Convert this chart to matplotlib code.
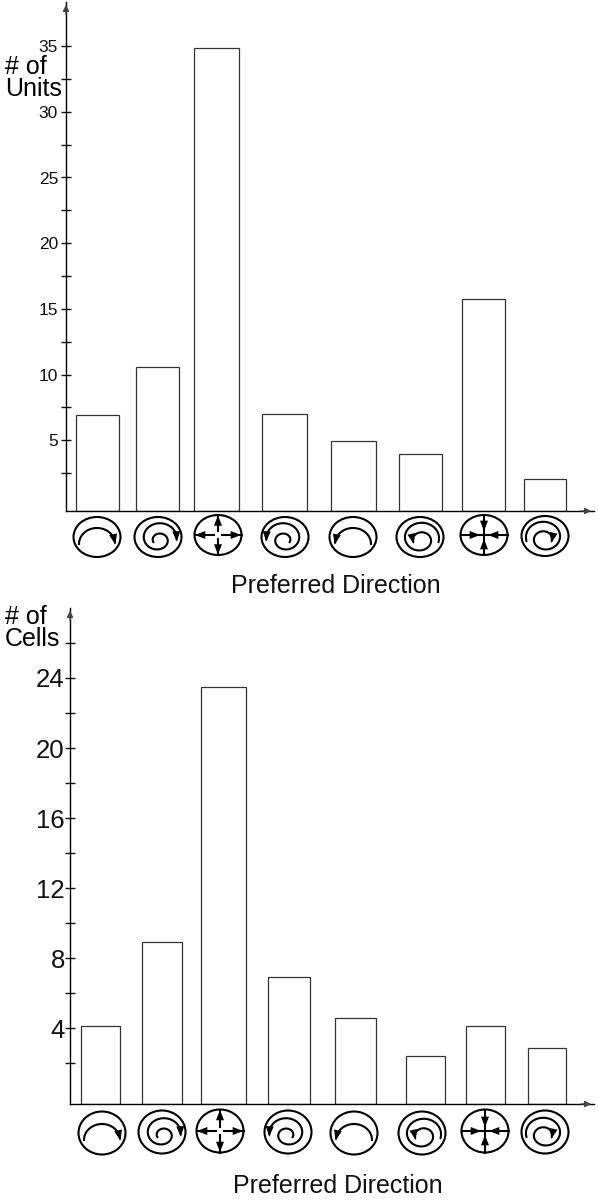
import numpy as np
import matplotlib
matplotlib.use('Agg')
from matplotlib import pyplot as plt
from matplotlib.patches import Ellipse

plt.rcParams['font.family'] = ['Liberation Sans', 'DejaVu Sans']

W, H = 598, 1200

# top panel
units_values = [6.9, 10.6, 34.85, 7.0, 4.95, 3.96, 15.75, 2.05]
units_major = [5, 10, 15, 20, 25, 30, 35]
units_minor = [2.5, 7.5, 12.5, 17.5, 22.5, 27.5, 32.5]
units_label = '# of\nUnits'

# bottom panel
cells_values = [4.1, 8.9, 23.5, 6.9, 4.57, 2.4, 4.1, 2.86]
cells_major = [4, 8, 12, 16, 20, 24]
cells_minor = [2, 6, 10, 14, 18, 22, 26]
cells_label = '# of\nCells'

xlabel = 'Preferred Direction'
# what each direction icon shows
icon_kinds = ['cw_arc', 'cw_spiral', 'out', 'ccw_spiral', 'ccw_arc', 'ccw_in', 'in', 'cw_in']

INK = '#111111'
HEAD = '-|>,head_length=0.62,head_width=0.24'


def pixel_axes(left, right, top, bottom):
    return fig.add_axes([left / W, 1 - bottom / H, (right - left) / W, (bottom - top) / H])


def draw_panel(box, edges, values, major, minor, y0, per_unit, tick_size, pad):
    left, right, top, bottom = box
    ax = pixel_axes(left, right, top, bottom)
    ax.set_xlim(left, right)
    ax.set_ylim((y0 - bottom) / per_unit, (y0 - top) / per_unit)
    ymin = ax.get_ylim()[0]
    for (a, b), v in zip(edges, values):
        ax.bar((a + b) / 2, v - ymin, b - a, bottom=ymin, facecolor='white', edgecolor='#333333', linewidth=0.9)
    ax.set_xticks([])
    ax.set_yticks(major)
    ax.set_yticks(minor, minor=True)
    ax.tick_params(axis='y', which='both', direction='inout', length=7.5, width=1.0, color=INK,
                   labelsize=tick_size, labelcolor=INK, pad=pad)
    for s in ['top', 'right']:
        ax.spines[s].set_visible(False)
    ax.spines['left'].set_linewidth(1.0)
    ax.spines['bottom'].set_linewidth(1.0)
    ax.patch.set_alpha(0)
    ax.annotate('', xy=(0, 1), xytext=(0, 0.97), xycoords='axes fraction',
                arrowprops=dict(arrowstyle='-|>', color='#444444', lw=1, mutation_scale=9))
    ax.annotate('', xy=(1, 0), xytext=(0.97, 0), xycoords='axes fraction',
                arrowprops=dict(arrowstyle='-|>', color='#444444', lw=1, mutation_scale=9))
    return ax


def arrow_to(ov, x0, y0, x1, y1):
    ov.annotate('', xy=(x1, y1), xytext=(x0, y0),
                arrowprops=dict(arrowstyle=HEAD, color='black', lw=0, mutation_scale=12,
                                shrinkA=0, shrinkB=0))


def curve_arrow(ov, x, y):
    # head on the end of a curve, along its last stretch
    dx, dy = x[-1] - x[-5], y[-1] - y[-5]
    n = np.hypot(dx, dy)
    arrow_to(ov, x[-1] - dx / n * 8, y[-1] - dy / n * 8, x[-1] + dx / n * 2, y[-1] + dy / n * 2)


def spiral(ov, cx, cy, start, end, r0, r1, sign):
    t = np.linspace(start, end, 160)
    r = np.linspace(r0, r1, 160)
    hub = np.abs(r - max(r0, r1)) / abs(r1 - r0)
    x = cx + sign * r * np.cos(t) * 1.05
    y = cy + r * np.sin(t) * 0.92 + hub * 4
    ov.plot(x, y, color='black', lw=1.5, solid_capstyle='round')
    return x, y


def draw_icon(ov, cx, cy, kind, ry):
    ov.add_patch(Ellipse((cx, cy), 47, ry * 2, fill=False, edgecolor='black', lw=1.5))
    if kind in ('cw_arc', 'ccw_arc'):
        sign = 1 if kind == 'cw_arc' else -1
        t = np.linspace(np.pi, np.pi * 1.97, 60)
        x = cx + sign * 18 * np.cos(t)
        y = cy + 7 + 16 * np.sin(t)
        ov.plot(x, y, color='black', lw=1.5)
        curve_arrow(ov, x, y)
    elif kind in ('cw_spiral', 'ccw_spiral'):
        sign = 1 if kind == 'cw_spiral' else -1
        # out from the hub, round the ring, head on the side
        x, y = spiral(ov, cx, cy, np.pi * 0.9, np.pi * 4.05, 4.5, 18, sign)
        curve_arrow(ov, x, y)
    elif kind in ('ccw_in', 'cw_in'):
        sign = 1 if kind == 'cw_in' else -1
        # in from the ring, head ends at the hub
        x, y = spiral(ov, cx, cy, np.pi * 0.9, np.pi * 4.05, 18.5, 6.5, sign)
        curve_arrow(ov, x, y)
    elif kind == 'out':
        for ux, uy, r in [(-1, 0, 23.5), (1, 0, 23.5), (0, -1, ry), (0, 1, ry)]:
            ov.plot([cx + ux * 4, cx + ux * r], [cy + uy * 4, cy + uy * r], color='black', lw=1.5)
            arrow_to(ov, cx + ux * r * 0.45, cy + uy * r * 0.45, cx + ux * r * 0.98, cy + uy * r * 0.98)
    else:
        ov.plot([cx - 23.5, cx + 23.5], [cy, cy], color='black', lw=1.5)
        ov.plot([cx, cx], [cy - ry, cy + ry], color='black', lw=1.5)
        for ux, uy, r in [(-1, 0, 23.5), (1, 0, 23.5), (0, -1, ry), (0, 1, ry)]:
            arrow_to(ov, cx + ux * r * 0.75, cy + uy * r * 0.75, cx + ux * 4, cy + uy * 4)


fig = plt.figure(figsize=(W / 100, H / 100), dpi=100, facecolor='white')

edges_top = [(76, 119), (136, 179), (194, 239), (262, 307), (331, 376), (399, 442), (462, 505), (524, 566)]
edges_bot = [(81, 120), (142, 182), (201, 246), (268, 310), (335, 376), (406, 445), (466, 505), (528, 566)]

draw_panel((66, 594, 2, 511), edges_top, units_values, units_major, units_minor, 506, 13.14, 12.5, 2)
draw_panel((70, 594, 608, 1104), edges_bot, cells_values, cells_major, cells_minor, 1098, 17.5, 18.5, 0)

# overlay in pixel coordinates for icons and labels
ov = fig.add_axes([0, 0, 1, 1])
ov.set_xlim(0, W)
ov.set_ylim(H, 0)
ov.axis('off')
ov.patch.set_alpha(0)

top_centres = [(97, 537), (158, 537), (218, 535), (285, 537), (353, 537), (420, 537), (484, 535), (545, 536)]
bot_centres = [(102, 1133), (162, 1132), (220, 1131), (288, 1132), (354, 1133), (422, 1133), (485, 1131), (545, 1132)]
for (cx, cy), kind in zip(top_centres, icon_kinds):
    draw_icon(ov, cx, cy, kind, 20)
for (cx, cy), kind in zip(bot_centres, icon_kinds):
    draw_icon(ov, cx, cy, kind, 21.5)

ov.text(336, 586, xlabel, fontsize=18, ha='center', va='center', color=INK)
ov.text(338, 1186, xlabel, fontsize=18, ha='center', va='center', color=INK)
ov.text(5, 78, units_label, fontsize=18, ha='left', va='center', color='black', linespacing=0.85)
ov.text(5, 628, cells_label, fontsize=18, ha='left', va='center', color='black', linespacing=0.85)

fig.savefig('out.png', dpi=100)
